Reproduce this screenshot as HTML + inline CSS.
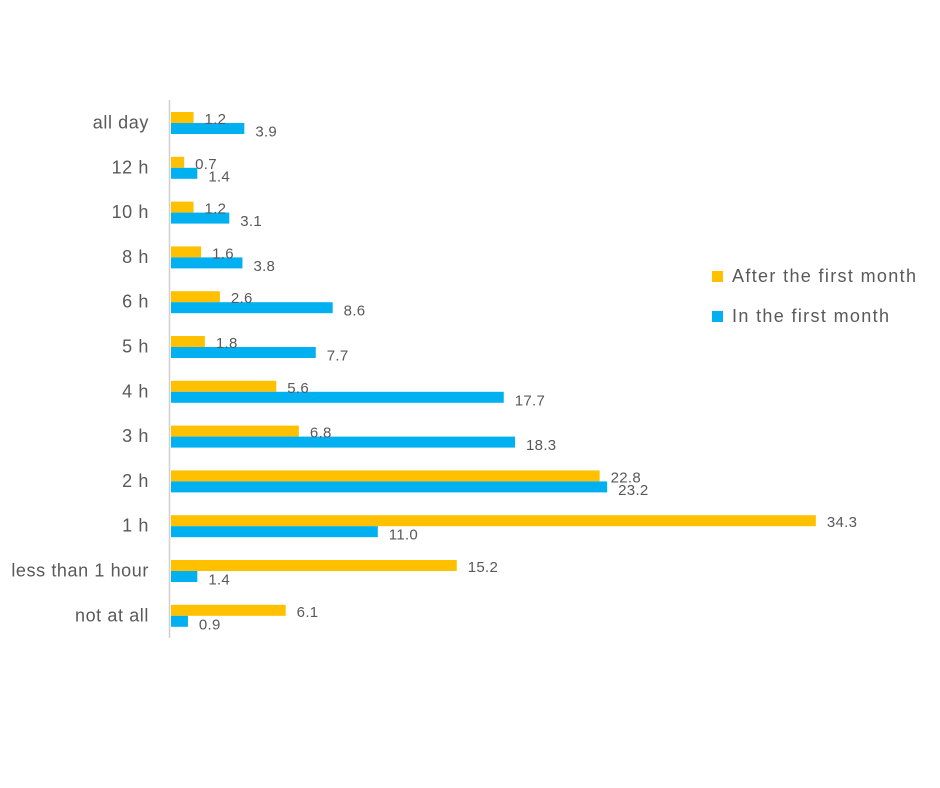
<!DOCTYPE html>
<html><head><meta charset="utf-8"><style>
html,body{margin:0;padding:0;background:#fff;}
svg{display:block;font-family:"Liberation Sans",sans-serif;}
.c{font-size:18px;letter-spacing:0.6px;fill:#595959;text-anchor:end;}
.v{font-size:15px;letter-spacing:0.3px;fill:#595959;}
.l{font-size:18px;fill:#595959;}
.o{fill:#FFC000;}
.b{fill:#00B0F0;}
</style></head><body>
<svg width="940" height="788" xmlns="http://www.w3.org/2000/svg">
<line x1="169.5" y1="100" x2="169.5" y2="638" stroke="#d0d0d0" stroke-width="1.5"/>

<text class="c" x="149" y="128.5">all day</text>
<rect class="o" x="171" y="112" width="22.56" height="11"/>
<rect class="b" x="171" y="123" width="73.32" height="11"/>
<text class="v" x="204.56" y="124">1.2</text>
<text class="v" x="255.32" y="136.5">3.9</text>

<text class="c" x="149" y="173.3">12 h</text>
<rect class="o" x="171" y="156.8" width="13.16" height="11"/>
<rect class="b" x="171" y="167.8" width="26.32" height="11"/>
<text class="v" x="195.16" y="168.8">0.7</text>
<text class="v" x="208.32" y="181.3">1.4</text>

<text class="c" x="149" y="218.1">10 h</text>
<rect class="o" x="171" y="201.6" width="22.56" height="11"/>
<rect class="b" x="171" y="212.6" width="58.28" height="11"/>
<text class="v" x="204.56" y="213.6">1.2</text>
<text class="v" x="240.28" y="226.1">3.1</text>

<text class="c" x="149" y="262.9">8 h</text>
<rect class="o" x="171" y="246.4" width="30.08" height="11"/>
<rect class="b" x="171" y="257.4" width="71.44" height="11"/>
<text class="v" x="212.08" y="258.4">1.6</text>
<text class="v" x="253.44" y="270.9">3.8</text>

<text class="c" x="149" y="307.7">6 h</text>
<rect class="o" x="171" y="291.2" width="48.88" height="11"/>
<rect class="b" x="171" y="302.2" width="161.68" height="11"/>
<text class="v" x="230.88" y="303.2">2.6</text>
<text class="v" x="343.68" y="315.7">8.6</text>

<text class="c" x="149" y="352.5">5 h</text>
<rect class="o" x="171" y="336" width="33.84" height="11"/>
<rect class="b" x="171" y="347" width="144.76" height="11"/>
<text class="v" x="215.84" y="348">1.8</text>
<text class="v" x="326.76" y="360.5">7.7</text>

<text class="c" x="149" y="397.3">4 h</text>
<rect class="o" x="171" y="380.8" width="105.28" height="11"/>
<rect class="b" x="171" y="391.8" width="332.76" height="11"/>
<text class="v" x="287.28" y="392.8">5.6</text>
<text class="v" x="514.76" y="405.3">17.7</text>

<text class="c" x="149" y="442.1">3 h</text>
<rect class="o" x="171" y="425.6" width="127.84" height="11"/>
<rect class="b" x="171" y="436.6" width="344.04" height="11"/>
<text class="v" x="309.84" y="437.6">6.8</text>
<text class="v" x="526.04" y="450.1">18.3</text>

<text class="c" x="149" y="486.9">2 h</text>
<rect class="o" x="171" y="470.4" width="428.64" height="11"/>
<rect class="b" x="171" y="481.4" width="436.16" height="11"/>
<text class="v" x="610.64" y="482.4">22.8</text>
<text class="v" x="618.16" y="494.9">23.2</text>

<text class="c" x="149" y="531.7">1 h</text>
<rect class="o" x="171" y="515.2" width="644.84" height="11"/>
<rect class="b" x="171" y="526.2" width="206.8" height="11"/>
<text class="v" x="826.84" y="527.2">34.3</text>
<text class="v" x="388.8" y="539.7">11.0</text>

<text class="c" x="149" y="576.5">less than 1 hour</text>
<rect class="o" x="171" y="560" width="285.76" height="11"/>
<rect class="b" x="171" y="571" width="26.32" height="11"/>
<text class="v" x="467.76" y="572">15.2</text>
<text class="v" x="208.32" y="584.5">1.4</text>

<text class="c" x="149" y="621.3">not at all</text>
<rect class="o" x="171" y="604.8" width="114.68" height="11"/>
<rect class="b" x="171" y="615.8" width="16.92" height="11"/>
<text class="v" x="296.68" y="616.8">6.1</text>
<text class="v" x="198.92" y="629.3">0.9</text>

<rect x="712" y="271" width="11" height="11" fill="#FFC000"/>
<text class="l" x="732" y="282" textLength="184" lengthAdjust="spacing">After the first month</text>
<rect x="712" y="311" width="11" height="11" fill="#00B0F0"/>
<text class="l" x="732" y="322" textLength="157" lengthAdjust="spacing">In the first month</text>
</svg>
</body></html>
